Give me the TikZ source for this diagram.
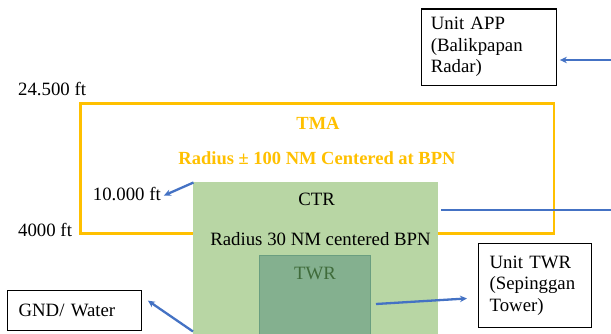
\documentclass[tikz,border=0pt]{standalone}
\usepackage{fontspec}
\setmainfont{Liberation Serif}
\usetikzlibrary{arrows.meta}
\definecolor{tmayellow}{RGB}{255,192,0}
\definecolor{ctrgreen}{RGB}{184,214,164}
\definecolor{twrfill}{RGB}{132,176,143}
\definecolor{twredge}{RGB}{106,158,128}
\definecolor{twrtext}{RGB}{63,107,58}
\definecolor{arrowblue}{RGB}{68,114,196}
\tikzset{
  lbl/.style={font=\fontsize{18.8}{21}\selectfont, inner sep=0pt},
  tmatext/.style={font=\fontsize{18.5}{21}\selectfont\bfseries, text=tmayellow, inner sep=0pt},
  unitbox/.style={draw=black, line width=1.2pt, font=\fontsize{18.8}{21.5}\selectfont, align=left, inner ysep=0pt},
  bluearrow/.style={draw=arrowblue, line width=2.3pt, -{Stealth[length=7pt,width=6.5pt]}},
  blueline/.style={draw=arrowblue, line width=2.3pt},
}
\begin{document}
\begin{tikzpicture}[x=1pt,y=-1pt]
\useasboundingbox (0,0) rectangle (611,333);
\clip (0,0) rectangle (611,333);
% TMA outline
\draw[tmayellow, line width=2.8pt] (80.7,103.5) rectangle (554,233.5);
\node[tmatext] (tma) at (318,123) {TMA};
\node[tmatext] (tmarad) at (317,158) {Radius ± 100 NM Centered at BPN};
% CTR
\fill[ctrgreen] (193.3,181.7) rectangle (438,340);
\coordinate (ctrnw) at (193.5,182.5);
\coordinate (ctre) at (441,209.7);
\coordinate (rightedge) at (611,209.7);
\node[lbl] (ctr) at (316.7,199.7) {CTR};
\node[lbl] (ctrrad) at (320.5,238.7) {Radius 30 NM centered BPN};
% TWR
\draw[twredge, fill=twrfill, line width=1pt] (259,255) rectangle (370.7,345);
\node[lbl, text=twrtext] (twr) at (315,273) {TWR};
\coordinate (twrout) at (376,304);
\coordinate (gndstart) at (193,331.5);
% altitude labels
\node[lbl, anchor=west] (alt245) at (18,89) {24.500 ft};
\node[lbl, anchor=west] (alt100) at (92.7,194.5) {10.000 ft};
\node[lbl, anchor=west] (alt40) at (18,230) {4000 ft};
% unit boxes
\node[unitbox, anchor=north west, minimum width=135pt, minimum height=76.7pt, text width=116pt, inner xsep=9.5pt] (app) at (420.7,8.3) {Unit APP\\(Balikpapan\\Radar)};
\node[unitbox, anchor=north west, minimum width=112.7pt, minimum height=83.7pt, text width=90.7pt, inner xsep=11pt] (utwr) at (478,243) {Unit TWR\\(Sepinggan\\Tower)};
\node[unitbox, anchor=north west, minimum width=133.7pt, minimum height=40pt, text width=111.7pt, inner xsep=11pt] (gnd) at (7,290) {GND/ Water};
\coordinate (appin) at (611,60);
% connectors
\draw[bluearrow] (appin) -- ([xshift=3pt]app.east |- appin);
\draw[blueline] (ctre) -- (rightedge);
\draw[bluearrow] (ctrnw) -- ([xshift=3pt,yshift=-1pt]alt100.east);
\draw[bluearrow] (twrout) -- ([xshift=-11pt,yshift=-13pt]utwr.west);
\draw[bluearrow] (gndstart) -- ([xshift=6pt,yshift=10pt]gnd.east);
\end{tikzpicture}
\end{document}
